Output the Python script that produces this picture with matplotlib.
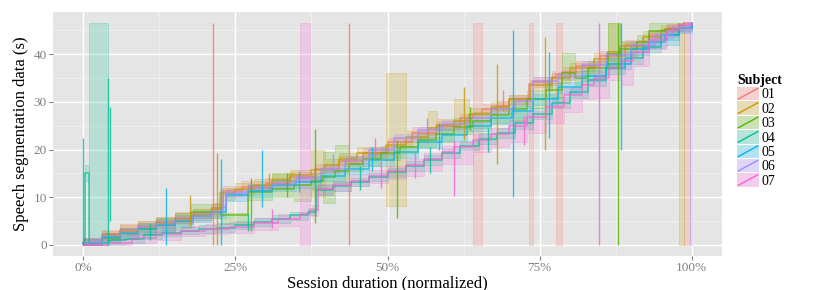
import matplotlib
matplotlib.use('Agg')
import matplotlib.pyplot as plt
from matplotlib.legend_handler import HandlerBase
from matplotlib.patches import Rectangle
from matplotlib.lines import Line2D
from matplotlib.colors import to_rgba

plt.rcParams['font.family'] = ['Liberation Serif', 'DejaVu Serif']

subjects = ['01', '02', '03', '04', '05', '06', '07']
colors = ['#F8766D', '#C49A00', '#53B400', '#00C094', '#00B6EB', '#A58AFF', '#FB61D7']

# ---- subject 01 ----
x01 = [0, 3, 6, 9, 12, 15, 18, 21.3, 23, 26, 30, 34, 38, 42, 46, 50, 54, 58, 62, 64.1, 65.6, 68, 70, 73.3, 73.9, 77, 77.7, 78.7, 81, 85, 89, 93, 96, 98.8, 99.7]
y01 = [0.5, 2.2, 3.2, 4.0, 4.8, 5.6, 6.5, 7.8, 11.2, 12.2, 13.0, 14.2, 16.0, 17.5, 19.3, 21.5, 23.5, 25.0, 26.5, 27.5, 28.5, 29.2, 30.5, 33.8, 34.2, 35.3, 35.8, 36.2, 37.5, 39.5, 42.0, 44.0, 45.5, 46.5, 46.5]
lo01 = [0, 1.2, 2.2, 3.0, 3.8, 4.5, 5.6, 6.8, 10.2, 11.2, 12.0, 13.2, 15.0, 16.5, 18.3, 20.5, 22.3, 24.0, 25.5, 0, 27.5, 28.2, 29.5, 0, 33.2, 34.3, 0, 35.2, 36.5, 38.5, 41.0, 43.0, 44.8, 0, 46.5]
hi01 = [1.5, 3.2, 4.4, 5.0, 5.8, 6.8, 7.5, 8.8, 12.3, 13.3, 14.0, 15.3, 17.0, 18.6, 20.3, 22.5, 24.7, 26.0, 27.5, 46.5, 29.5, 30.2, 31.5, 46.5, 35.2, 36.4, 46.5, 37.2, 38.5, 40.6, 43.0, 45.0, 46.3, 46.5, 46.5]

# ---- subject 02 ----
x02 = [0, 3, 6, 9, 12, 15, 18, 21, 22.5, 25, 28, 31, 34, 37.5, 39.7, 42, 45, 49.7, 53.1, 56.6, 58.2, 60.9, 63.4, 67, 70, 73.5, 77, 80, 84, 86.3, 88.3, 92, 95, 97.9, 98.8]
y02 = [0.3, 2.0, 3.0, 3.8, 4.6, 5.5, 6.3, 7.5, 10.8, 11.8, 12.6, 13.6, 14.6, 15.8, 16.8, 18.0, 19.3, 21.0, 22.6, 24.5, 25.2, 26.0, 27.5, 29.0, 30.5, 33.5, 35.0, 37.0, 39.0, 40.5, 41.8, 43.5, 45.0, 46.0, 46.5]
lo02 = [0, 1.0, 2.0, 2.8, 3.6, 4.5, 5.3, 6.5, 9.5, 10.5, 11.5, 12.6, 13.5, 10.0, 15.5, 17.0, 18.3, 8.2, 21.6, 23.0, 24.0, 24.5, 26.5, 28.0, 29.5, 32.5, 34.0, 36.0, 38.0, 37.0, 40.5, 42.5, 44.0, 0, 46.5]
hi02 = [1.5, 3.0, 4.2, 5.0, 5.8, 6.6, 7.5, 8.5, 12.0, 13.0, 13.8, 14.8, 15.8, 19.8, 18.0, 19.2, 20.5, 36.0, 23.8, 28.0, 26.4, 30.5, 28.6, 30.0, 31.5, 34.5, 36.0, 38.2, 40.2, 46.5, 42.8, 44.8, 46.0, 46.5, 46.5]

# ---- subject 03 ----
x03 = [0, 3, 6, 9, 12, 15, 17.7, 22.6, 27, 31, 34.6, 37.5, 39.4, 41.3, 43.6, 46, 49, 52, 55, 58, 61, 64, 67, 70, 73, 76, 78.7, 80.9, 83, 86.3, 88.3, 91, 93, 95.7, 98]
y03 = [0.2, 1.5, 2.5, 3.3, 4.2, 5.0, 6.8, 6.2, 11.0, 11.8, 12.5, 13.5, 14.2, 15.5, 17.0, 18.0, 19.2, 20.5, 22.0, 23.3, 24.8, 26.0, 27.2, 28.5, 30.5, 32.5, 36.0, 35.0, 37.0, 40.0, 41.0, 42.5, 44.8, 45.3, 46.3]
lo03 = [0, 0.5, 1.2, 2.0, 2.8, 3.6, 5.7, 4.4, 9.5, 10.0, 9.3, 11.5, 8.8, 13.0, 15.5, 16.5, 17.8, 19.2, 20.5, 21.5, 23.2, 24.5, 25.5, 26.0, 28.8, 30.8, 34.5, 33.5, 35.5, 37.0, 39.5, 41.0, 44.4, 44.0, 46.0]
hi03 = [1.2, 2.5, 3.6, 4.5, 5.6, 6.6, 8.6, 6.7, 12.5, 15.0, 12.8, 15.0, 19.4, 21.0, 18.5, 19.5, 20.8, 21.8, 23.5, 25.0, 26.5, 27.8, 29.0, 30.5, 32.2, 34.0, 40.2, 36.5, 38.5, 46.5, 42.5, 44.0, 46.5, 46.5, 46.5]

# ---- subject 04 ----
x04 = [0, 0.3, 0.9, 1.0, 4.0, 4.4, 7, 10, 13, 16, 19, 22, 25, 28, 31, 34, 37, 38.2, 41, 44, 47, 50, 53, 56, 59, 62, 65, 68, 71, 74, 77, 80, 83, 86, 89, 92, 95, 98, 100]
y04 = [0.3, 15.0, 0.3, 0.5, 0.8, 1.0, 1.3, 2.0, 2.6, 3.0, 3.3, 3.6, 4.2, 4.8, 5.5, 6.2, 7.0, 11.5, 12.3, 13.2, 14.2, 15.2, 16.5, 17.8, 19.2, 20.8, 22.3, 23.5, 25.5, 27.5, 29.8, 32.0, 34.5, 37.0, 39.2, 41.5, 44.0, 45.5, 46.5]
lo04 = [0, 13.5, 0, 0, 0, 0.2, 0.5, 1.2, 1.8, 2.2, 2.5, 2.8, 3.4, 4.0, 4.6, 5.3, 6.2, 10.5, 11.4, 12.3, 13.3, 14.2, 15.5, 16.8, 18.2, 19.8, 21.2, 22.5, 24.3, 26.3, 28.6, 30.8, 33.3, 35.8, 38.0, 40.5, 43.0, 44.8, 46.5]
hi04 = [1.0, 16.8, 1.0, 46.5, 1.6, 1.8, 2.2, 2.8, 3.4, 3.8, 4.1, 4.5, 5.0, 5.6, 6.3, 7.0, 7.8, 12.5, 13.2, 14.1, 15.1, 16.2, 17.5, 18.8, 20.2, 21.8, 23.4, 24.6, 26.7, 28.7, 31.0, 33.2, 35.7, 38.2, 40.4, 42.5, 45.0, 46.2, 46.5]

# ---- subject 05 ----
x05 = [0, 3, 6, 9, 12, 15, 18, 21, 23.5, 27, 31, 35, 39, 43, 47, 51, 55, 59, 63, 67, 70.5, 74, 78, 82, 86, 90, 93, 95.7, 98, 100]
y05 = [0.3, 1.6, 2.4, 3.3, 4.2, 5.0, 6.0, 6.8, 10.5, 11.3, 12.5, 13.2, 14.5, 16.0, 17.8, 19.5, 21.5, 23.0, 25.0, 26.5, 28.0, 30.5, 33.0, 35.5, 38.0, 41.0, 42.5, 44.0, 45.5, 46.5]
lo05 = [0, 0.6, 1.3, 2.2, 3.0, 3.8, 4.8, 5.6, 9.3, 10.1, 11.3, 12.0, 13.3, 14.8, 16.6, 18.3, 20.3, 21.8, 23.8, 25.3, 26.8, 29.3, 31.8, 34.3, 36.8, 39.8, 41.3, 42.0, 44.5, 46.5]
hi05 = [1.3, 2.6, 3.5, 4.4, 5.4, 6.2, 7.2, 8.0, 11.7, 12.5, 13.7, 14.4, 15.7, 17.2, 19.0, 20.7, 22.7, 24.2, 26.2, 27.7, 29.2, 31.7, 34.2, 36.7, 39.2, 42.2, 43.7, 45.0, 46.5, 46.5]

# ---- subject 06 ----
x06 = [0, 3, 6, 9, 12, 15, 18, 21, 22.9, 23.5, 27, 31, 35, 39, 43, 47, 51, 55, 59, 63, 67, 71, 74, 78, 82, 86, 90, 94, 97, 99.7, 100]
y06 = [0.4, 1.8, 2.8, 3.7, 4.4, 5.2, 6.0, 7.0, 8.0, 10.8, 12.0, 12.8, 14.0, 16.0, 17.8, 19.8, 22.5, 24.0, 25.3, 26.5, 28.5, 30.2, 34.3, 35.5, 37.8, 39.8, 42.0, 44.0, 45.5, 46.5, 46.5]
lo06 = [0, 1.0, 2.0, 2.8, 3.5, 4.3, 5.1, 6.1, 7.2, 10.0, 11.2, 12.0, 13.2, 15.2, 17.0, 19.0, 21.7, 23.2, 24.5, 25.7, 27.7, 29.4, 33.5, 34.7, 37.0, 39.0, 41.2, 43.2, 44.7, 0, 46.5]
hi06 = [1.2, 2.6, 3.6, 4.6, 5.3, 6.1, 6.9, 7.9, 8.8, 11.6, 12.8, 13.6, 14.8, 16.8, 18.6, 20.6, 23.3, 24.8, 26.1, 27.3, 29.3, 31.0, 35.1, 36.3, 38.6, 40.6, 42.8, 44.8, 46.3, 46.5, 46.5]

# ---- subject 07 ----
x07 = [0, 4, 8, 12, 16, 20, 24, 28, 32, 35.6, 37.3, 38.5, 41, 44, 47, 50, 53, 56, 59, 61, 64, 67, 70, 73, 76, 79, 82, 84, 86.5, 88.6, 90.3, 93, 96, 98, 100]
y07 = [0, 0.5, 1.4, 2.2, 3.0, 3.4, 3.8, 4.6, 5.4, 6.5, 7.4, 11.8, 12.5, 13.5, 14.5, 15.5, 16.8, 18.0, 19.5, 20.5, 22.0, 23.3, 25.0, 26.8, 29.0, 31.5, 33.5, 35.0, 37.0, 38.5, 40.5, 43.0, 45.0, 46.0, 46.5]
lo07 = [0, 0, 0.3, 1.0, 1.8, 2.2, 2.6, 3.2, 4.0, 0, 6.0, 10.5, 11.3, 12.3, 13.0, 13.8, 14.5, 15.5, 17.0, 17.0, 19.5, 20.5, 21.5, 23.5, 25.5, 27.8, 30.5, 30.7, 34.5, 33.5, 37.5, 41.0, 43.5, 45.0, 46.5]
hi07 = [1.5, 1.8, 2.5, 3.3, 4.0, 4.4, 4.8, 5.6, 6.4, 46.5, 8.4, 12.8, 13.5, 14.6, 15.6, 16.6, 18.0, 19.2, 20.8, 21.6, 23.2, 24.5, 26.2, 28.0, 30.2, 32.8, 34.7, 36.2, 38.2, 39.0, 41.8, 44.0, 46.0, 46.5, 46.5]

# ---- vertical excursions (subject index, x, from, to) ----
spike_subject = [3, 3, 3, 0, 0, 1, 1, 1, 1, 1, 4, 4, 4, 4, 4, 4, 2, 2, 2, 2, 5, 6, 6,
                 3, 3, 3, 3, 3, 6, 6, 6, 6, 4, 4, 4, 5, 5, 2, 2, 1, 0, 0]
spike_x = [0.0, 4.0, 4.3, 21.3, 43.6, 17.5, 22.0, 62.5, 68.0, 75.9, 13.5, 22.7, 29.3, 70.6, 76.6, 88.4, 27.6, 38.0, 51.5, 87.9, 22.9, 84.8, 60.9,
           11.0, 27.0, 45.5, 57.0, 66.5, 31.0, 49.0, 54.5, 72.5, 35.5, 47.5, 58.5, 41.0, 56.5, 33.5, 63.5, 30.5, 48.0, 69.0]
spike_lo = [0, 0, 5, 0, 0, 4, 0, 22, 17, 20, 0, 0, 8, 10, 22.5, 20, 3, 4.5, 5.7, 0, 8, 0, 10.3,
            1.0, 3.0, 11.5, 15.0, 19.5, 3.5, 12.0, 14.0, 21.0, 11.0, 15.5, 20.0, 15.0, 22.0, 10.0, 24.0, 11.5, 18.0, 28.0]
spike_hi = [22.5, 35, 29, 46.5, 46.5, 10.5, 19.3, 33, 38, 43.5, 12, 18, 20, 45, 40.4, 46.5, 14, 24.4, 22, 46.5, 11.5, 46.5, 22,
            4.5, 6.5, 16.5, 20.5, 24.5, 7.5, 17.5, 19.5, 27.0, 15.5, 20.5, 25.5, 19.0, 26.5, 15.0, 29.0, 15.0, 22.5, 32.5]

xs = [x01, x02, x03, x04, x05, x06, x07]
ys = [y01, y02, y03, y04, y05, y06, y07]
los = [lo01, lo02, lo03, lo04, lo05, lo06, lo07]
his = [hi01, hi02, hi03, hi04, hi05, hi06, hi07]

xticks = [0, 25, 50, 75, 100]
xticklabels = ['0%', '25%', '50%', '75%', '100%']
yticks = [0, 10, 20, 30, 40]

fig = plt.figure(figsize=(8.31, 2.90), dpi=100)
ax = fig.add_axes([53 / 831, 1 - 256 / 290, 669 / 831, 244 / 290])
ax.set_facecolor('#E5E5E5')

for c, x, lo, hi in zip(colors, xs, los, his):
    ax.fill_between(x, lo, hi, step='post', facecolor=to_rgba(c, 0.2),
                    edgecolor=to_rgba(c, 0.25), linewidth=0.6, zorder=2)
for c, x, y in zip(colors, xs, ys):
    ax.step(x, y, where='post', color=c, alpha=0.75, linewidth=1.1, zorder=3)
for s, x, a, b in zip(spike_subject, spike_x, spike_lo, spike_hi):
    ax.plot([x, x], [a, b], color=colors[s], alpha=0.8, linewidth=1.0,
            solid_capstyle='butt', zorder=3)

ax.set_xlim(-5, 105)
ax.set_ylim(-2.325, 48.825)
ax.set_xticks(xticks)
ax.set_xticklabels(xticklabels)
ax.set_xticks([12.5, 37.5, 62.5, 87.5], minor=True)
ax.set_yticks(yticks)
ax.set_yticks([5, 15, 25, 35, 45], minor=True)
ax.grid(which='major', color='white', linewidth=1.0)
ax.grid(which='minor', color='#F2F2F2', linewidth=0.5)
ax.set_axisbelow(True)
for sp in ax.spines.values():
    sp.set_visible(False)
ax.tick_params(which='major', length=3, width=0.8, color='#7F7F7F',
               labelcolor='#7F7F7F', labelsize=9.5, pad=1.5)
ax.tick_params(which='minor', length=0)
ax.set_xlabel('Session duration (normalized)', fontsize=12, labelpad=0.5)
ax.set_ylabel('Speech segmentation data (s)', fontsize=12, labelpad=3)


class KeyHandler(HandlerBase):
    def create_artists(self, legend, orig_handle, xdescent, ydescent,
                       width, height, fontsize, trans):
        c = orig_handle.get_color()
        bg = Rectangle((-xdescent, -ydescent), width, height,
                       facecolor='#F2F2F2', edgecolor='none', transform=trans)
        r = Rectangle((-xdescent, -ydescent), width, height,
                      facecolor=to_rgba(c, 0.25), edgecolor='none', transform=trans)
        ln = Line2D([-xdescent + 1, -xdescent + width - 1],
                    [-ydescent + 1, -ydescent + height - 1],
                    color=c, linewidth=1.0, transform=trans)
        return [bg, r, ln]


handles = [Line2D([], [], color=c) for c in colors]
leg = fig.legend(handles, subjects, loc='upper left',
                 bbox_to_anchor=(737 / 831, 1 - 74 / 290),
                 frameon=False, fontsize=10, title='Subject',
                 title_fontproperties={'weight': 'bold', 'size': 10},
                 handler_map={Line2D: KeyHandler()},
                 handlelength=1.6, handleheight=1.1, labelspacing=0.0,
                 handletextpad=0.2, borderpad=0, borderaxespad=0,
                 alignment='left')

fig.savefig('out.png', dpi=100)
